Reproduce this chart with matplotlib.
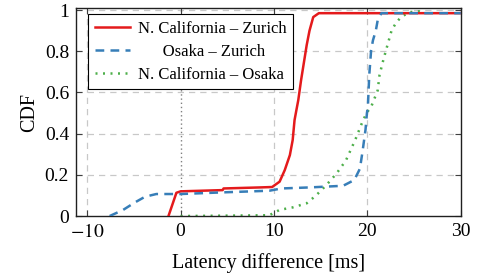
import matplotlib
matplotlib.use('Agg')
import matplotlib.pyplot as plt

plt.rcParams['font.family'] = ['Liberation Serif', 'DejaVu Serif']
plt.rcParams['mathtext.fontset'] = 'stix'

# N. California - Zurich
nc_zu_x = [-1.3, -0.45, 0.0, 4.5, 4.6, 8.5, 9.8, 10.6, 11.15, 11.7, 12.0, 12.2,
           12.4, 12.6, 12.9, 13.5, 13.8, 14.2, 14.8, 30.0]
nc_zu_y = [0.0, 0.113, 0.12, 0.126, 0.134, 0.139, 0.141, 0.167, 0.223, 0.296, 0.369, 0.466,
           0.515, 0.563, 0.66, 0.83, 0.90, 0.966, 0.985, 0.985]

# Osaka - Zurich
os_zu_x = [-7.6, -6.15, -4.9, -3.8, -2.6, 0.0, 4.5, 9.5, 10.8, 13.8, 17.4, 18.6, 19.2,
           19.5, 19.8, 19.95, 20.05, 20.2, 20.4, 20.6, 20.9, 21.1, 21.5, 30.0]
os_zu_y = [0.0, 0.03, 0.066, 0.094, 0.107, 0.107, 0.115, 0.123, 0.134, 0.139, 0.147, 0.175, 0.23,
           0.32, 0.42, 0.50, 0.53, 0.685, 0.806, 0.854, 0.90, 0.95, 0.985, 0.985]

# N. California - Osaka
nc_os_x = [0.0, 9.5, 10.6, 12.0, 13.5, 14.5, 15.6, 16.7, 17.7, 18.7, 19.4, 19.9, 20.4,
           21.1, 21.3, 21.7, 22.0, 22.6, 23.1, 23.6, 24.5, 25.8]
nc_os_y = [0.0, 0.004, 0.03, 0.042, 0.062, 0.10, 0.15, 0.207, 0.27, 0.37, 0.45, 0.50, 0.53,
           0.61, 0.685, 0.757, 0.806, 0.903, 0.94, 0.966, 0.99, 0.995]

labels = ['N. California – Zurich', '      Osaka – Zurich', 'N. California – Osaka']
colors = ['#e41a1c', '#377eb8', '#4daf4a']

fig = plt.figure(figsize=(4.78, 2.77), dpi=100)
ax = fig.add_axes([0.159, 0.22, 0.805, 0.751])

for xv in [-10, 10, 20]:
    ax.axvline(xv, color='#c8c8c8', lw=0.9, ls=(0, (5, 4)), zorder=0)
for yv in [0.2, 0.4, 0.6, 0.8, 1.0]:
    ax.axhline(yv, color='#c8c8c8', lw=0.9, ls=(0, (5, 4)), zorder=0)
ax.axvline(0, color='#808080', lw=1.0, ls=(0, (1, 2)), zorder=0)

ax.plot(nc_zu_x, nc_zu_y, color=colors[0], lw=1.8, ls='-', label=labels[0], zorder=3)
ax.plot(os_zu_x, os_zu_y, color=colors[1], lw=1.8, ls=(0, (3.5, 2.5)), label=labels[1], zorder=3)
ax.plot(nc_os_x, nc_os_y, color=colors[2], lw=1.8, ls=(0, (0.8, 2.2)), label=labels[2], zorder=2)

ax.set_xlim(-11.2, 30)
ax.set_ylim(0, 1.01)
ax.set_xticks([-10, 0, 10, 20, 30])
ax.set_xticklabels(['$-10$', '0', '10', '20', '30'])
ax.set_yticks([0, 0.2, 0.4, 0.6, 0.8, 1.0])
ax.set_yticklabels(['0', '0.2', '0.4', '0.6', '0.8', '1'])
ax.tick_params(direction='in', length=4, width=0.8, color='#404040',
               top=True, right=True, labelsize=14, pad=5)
for s in ax.spines.values():
    s.set_linewidth(1.0)
    s.set_color('#202020')

ax.set_xlabel('Latency difference [ms]', fontsize=14.5, labelpad=9)
ax.set_ylabel('CDF', fontsize=14.5, labelpad=4)

leg = ax.legend(loc='upper left', bbox_to_anchor=(0.031, 0.971), fontsize=12,
                frameon=True, fancybox=False, edgecolor='black', framealpha=1,
                handlelength=2.1, handletextpad=0.5, borderpad=0.4, labelspacing=0.42,
                borderaxespad=0)
leg.get_frame().set_linewidth(0.8)

fig.savefig('out.png', dpi=100)
